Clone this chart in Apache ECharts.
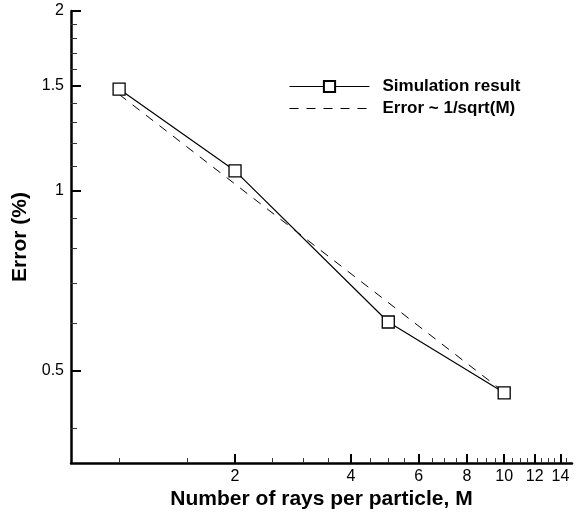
<!DOCTYPE html>
<html>
<head>
<meta charset="utf-8">
<script src="https://cdn.jsdelivr.net/npm/echarts@6/dist/echarts.min.js"></script>
<style>html,body{margin:0;padding:0;background:#fff}#c{width:582px;height:515px}</style>
</head>
<body>
<div id="c"></div>
<script>
// Data
const raysM = [1, 2, 5, 10];
const simError = [1.48, 1.08, 0.603, 0.459];
const refM = [1, 10];
const refError = [1.45, 0.46];
// Ticks
const xMajorTicks = [2, 4, 6, 8, 10, 12, 14];
const xMinorTicks = [1, 1.5, 2.5, 3, 3.5, 4.5, 5, 5.5, 6.5, 7, 7.5, 8.5, 9, 9.5, 10.5, 11, 11.5, 12.5, 13, 13.5, 14.5];
const yMajorTicks = [0.5, 1, 1.5, 2];
const yMinorTicks = [0.4, 0.6, 0.7, 0.8, 0.9, 1.1, 1.2, 1.3, 1.4, 1.6, 1.7, 1.8, 1.9];
const seriesNames = ['Simulation result', 'Error ~ 1/sqrt(M)'];

const FONT = 'Liberation Sans, Arial, Helvetica, sans-serif';
const chart = echarts.init(document.getElementById('c'), null, {renderer: 'canvas'});

function fmt(v) { return String(Math.round(v * 100) / 100); }

const xBase = {type: 'log', logBase: 10, min: 0.75, max: 15, gridIndex: 0, position: 'bottom', splitLine: {show: false}, minorTick: {show: false}, minorSplitLine: {show: false}};
const yBase = {type: 'log', logBase: 10, min: 0.35, max: 2, gridIndex: 0, position: 'left', splitLine: {show: false}, minorTick: {show: false}, minorSplitLine: {show: false}};

chart.setOption({
  animation: false,
  backgroundColor: '#fff',
  textStyle: {fontFamily: FONT},
  grid: {left: 71, right: 10, top: 11, bottom: 47, containLabel: false},
  legend: {
    orient: 'vertical', left: 284, top: 73, itemWidth: 80, itemHeight: 14, itemGap: 5,
    lineStyle: {width: 1},
    textStyle: {fontFamily: FONT, fontSize: 17, fontWeight: 'bold', color: '#000', padding: [0, 0, 0, 8]},
    data: [
      {name: seriesNames[0]},
      {name: seriesNames[1], itemStyle: {opacity: 0}}
    ]
  },
  xAxis: [
    Object.assign({}, xBase, {
      name: 'Number of rays per particle, M', nameLocation: 'middle', nameGap: 17,
      nameTextStyle: {fontFamily: FONT, fontSize: 21, fontWeight: 'bold', color: '#000'},
      axisLine: {show: true, lineStyle: {color: '#000', width: 2.5}},
      axisTick: {show: true, inside: true, length: 9, lineStyle: {color: '#000', width: 2}, customValues: xMajorTicks},
      axisLabel: {show: true, margin: 5, fontSize: 16, color: '#000', fontFamily: FONT, customValues: xMajorTicks, formatter: fmt}
    }),
    Object.assign({}, xBase, {
      axisLine: {show: false},
      axisTick: {show: true, inside: true, length: 5, lineStyle: {color: '#333', width: 1}, customValues: xMinorTicks},
      axisLabel: {show: false}
    })
  ],
  yAxis: [
    Object.assign({}, yBase, {
      name: 'Error (%)', nameLocation: 'middle', nameGap: 38, nameRotate: 90,
      nameTextStyle: {fontFamily: FONT, fontSize: 21, fontWeight: 'bold', color: '#000'},
      axisLine: {show: true, lineStyle: {color: '#000', width: 2.5}},
      axisTick: {show: true, inside: true, length: 10, lineStyle: {color: '#000', width: 2}, customValues: yMajorTicks},
      axisLabel: {show: true, margin: 7, fontSize: 16, color: '#000', fontFamily: FONT, customValues: yMajorTicks, formatter: fmt}
    }),
    Object.assign({}, yBase, {
      axisLine: {show: false},
      axisTick: {show: true, inside: true, length: 6, lineStyle: {color: '#333', width: 1}, customValues: yMinorTicks},
      axisLabel: {show: false}
    })
  ],
  series: [
    {
      name: seriesNames[0], type: 'line', xAxisIndex: 0, yAxisIndex: 0,
      data: raysM.map((m, i) => [m, simError[i]]),
      symbol: 'rect', symbolSize: 12, showSymbol: true,
      lineStyle: {color: '#000', width: 1.2, type: 'solid'},
      itemStyle: {color: '#fff', borderColor: '#000', borderWidth: 1.3},
      z: 3
    },
    {
      name: seriesNames[1], type: 'line', xAxisIndex: 0, yAxisIndex: 0,
      data: refM.map((m, i) => [m, refError[i]]),
      symbol: 'none',
      lineStyle: {color: '#000', width: 1, type: [9, 8]},
      itemStyle: {color: '#000'},
      z: 2
    }
  ]
});
</script>
</body>
</html>
